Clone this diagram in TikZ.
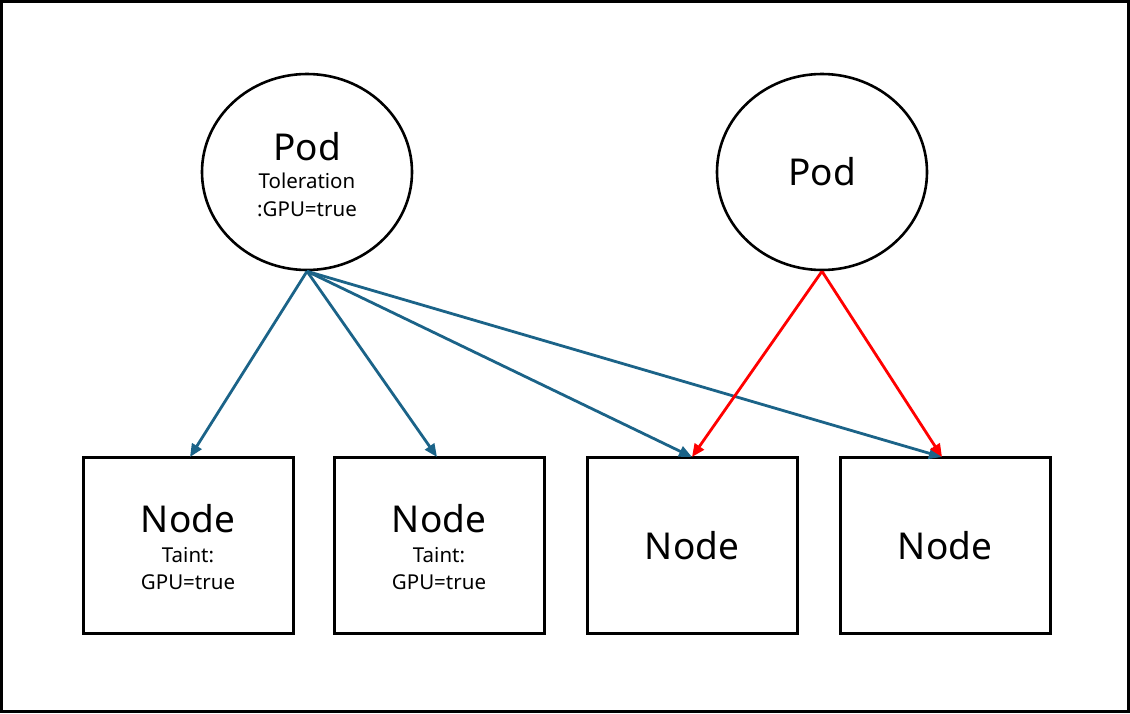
\documentclass[tikz,border=0pt]{standalone}
\usepackage{fontspec}
\setmainfont{Noto Sans}
\usetikzlibrary{shapes.geometric,arrows.meta}
\definecolor{arrowblue}{HTML}{1B6388}
\begin{document}
\begin{tikzpicture}[x=1pt,y=-1pt,
  podshape/.style={draw=black,line width=2.6pt,ellipse,minimum width=210pt,minimum height=196pt,inner sep=0pt},
  nodebox/.style={draw=black,line width=3pt,rectangle,minimum width=210pt,minimum height=176pt,inner sep=0pt},
  bigtext/.style={font=\fontsize{37}{40}\selectfont,inner sep=0pt},
  smalltext/.style={font=\fontsize{20.5}{22}\selectfont,inner sep=0pt},
  blue arrow/.style={draw=arrowblue,line width=2.8pt,-{Triangle[length=13pt,width=11pt]}},
  red arrow/.style={draw=red,line width=2.8pt,-{Triangle[length=13pt,width=11pt]}}]
\useasboundingbox (0,0) rectangle (1130,713);
\draw[line width=2.5pt] (1.5,1.5) rectangle (1128.5,711.5);
% pods
\node[podshape] (pod1) at (307,172) {};
\node[podshape] (pod2) at (822,172) {};
\node[bigtext] (pod1t) at (307,147) {Pod};
\node[smalltext] (pod1a) at (307,181) {Toleration};
\node[smalltext] (pod1b) at (307,209) {:GPU=true};
\node[bigtext] (pod2t) at (822,172) {Pod};
% nodes
\node[nodebox] (n1) at (188,545) {};
\node[nodebox] (n2) at (439,545) {};
\node[nodebox] (n3) at (692,545) {};
\node[nodebox] (n4) at (945,545) {};
\node[bigtext] (n1t) at (188,519) {Node};
\node[smalltext] (n1a) at (188,555) {Taint:};
\node[smalltext] (n1b) at (188,582) {GPU=true};
\node[bigtext] (n2t) at (439,519) {Node};
\node[smalltext] (n2a) at (439,555) {Taint:};
\node[smalltext] (n2b) at (439,582) {GPU=true};
\node[bigtext] (n3t) at (692,546) {Node};
\node[bigtext] (n4t) at (945,546) {Node};
% arrows
\coordinate (n1in) at (190,457);
\coordinate (n2in) at (437,457);
\coordinate (n3in) at (692,457);
\coordinate (n4in) at (942,457);
\draw[blue arrow] (pod1.south) -- (n1in);
\draw[blue arrow] (pod1.south) -- (n2in);
\draw[blue arrow] (pod1.south) -- (n3in);
\draw[blue arrow] (pod1.south) -- (n4in);
\draw[red arrow] (pod2.south) -- (n3in);
\draw[red arrow] (pod2.south) -- (n4in);
\end{tikzpicture}
\end{document}
